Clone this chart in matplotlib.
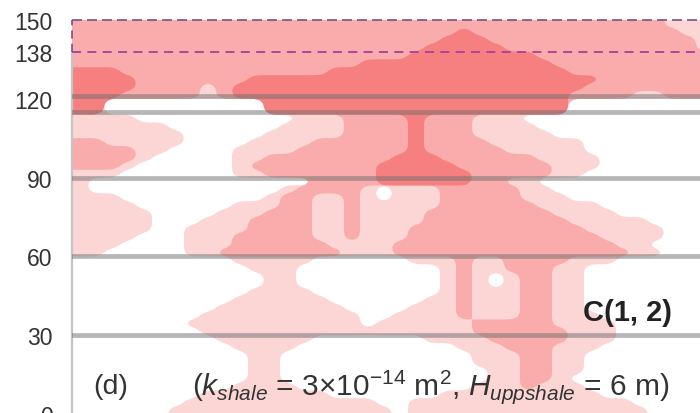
import numpy as np
import matplotlib
matplotlib.use("Agg")
import matplotlib.pyplot as plt

# CO2 saturation class per cell: rows from top (150 m) to bottom (0 m), 3 m per row,
# 40 columns across the section; run-length coded as "level*count"
plume_rows = [
    "2*37 1*3",
    "2*24 3*1 2*13 1*2",
    "2*23 3*3 2*13 1*1",
    "2*22 3*5 2*12 1*1",
    "2*21 3*8 2*11",
    "2*18 3*12 2*10",
    "3*3 2*13 3*15 2*9",
    "3*4 2*7 3*22 2*7",
    "3*4 2*4 1*1 2*1 3*22 2*8",
    "3*3 2*5 1*1 2*1 3*21 2*4 1*2 2*3",
    "3*2 0*10 3*19 0*9",
    "3*2 0*10 3*19 0*9",
    "1*4 0*10 1*3 2*4 3*1 2*3 1*3 0*12",
    "1*6 0*7 1*4 2*4 3*1 2*3 1*4 0*11",
    "1*7 0*5 1*5 2*4 3*1 2*3 1*5 0*10",
    "2*2 1*5 0*4 1*4 2*6 3*1 2*4 1*6 0*8",
    "2*4 1*2 0*4 1*4 2*7 3*1 2*5 1*5 0*8",
    "2*4 1*1 0*5 1*2 2*8 3*3 2*6 1*4 0*7",
    "2*3 1*1 0*6 1*1 2*8 3*5 2*6 1*3 0*7",
    "1*3 0*7 1*2 2*7 3*6 2*5 1*2 0*8",
    "1*1 0*14 2*4 3*6 2*2 1*2 0*11",
    "1*1 0*12 1*1 2*4 1*1 0*1 1*3 2*5 1*2 0*10",
    "1*3 0*9 1*1 2*2 1*2 2*1 1*1 0*1 1*3 2*5 1*3 0*9",
    "1*4 0*6 1*3 2*2 1*2 2*1 1*5 2*6 1*4 0*7",
    "1*5 0*4 1*3 2*3 1*2 2*1 1*4 2*8 1*4 0*6",
    "1*5 0*3 1*3 2*4 1*2 2*1 1*4 2*9 1*5 0*4",
    "1*5 0*2 1*4 2*4 1*2 2*1 1*3 2*11 1*5 0*3",
    "1*4 0*3 1*3 2*5 1*2 2*1 1*3 2*12 1*4 0*3",
    "1*3 0*4 1*3 2*6 1*4 2*14 1*2 0*4",
    "1*2 0*5 1*2 2*8 1*3 2*15 1*2 0*3",
    "0*10 1*5 0*6 1*3 2*1 1*2 2*4 1*3 0*6",
    "0*11 1*3 0*9 1*1 2*1 1*2 2*3 1*2 0*8",
    "0*12 1*2 0*9 1*1 2*1 1*1 0*1 1*1 2*2 1*2 0*8",
    "0*12 1*2 0*9 1*1 2*1 1*1 0*1 1*1 2*2 1*2 0*8",
    "0*11 1*4 0*8 1*1 2*1 1*3 2*2 1*2 0*8",
    "0*10 1*6 0*6 1*2 2*1 1*3 2*2 1*2 0*8",
    "0*9 1*8 0*4 1*3 2*1 1*3 2*2 1*2 0*8",
    "0*8 1*10 0*2 1*4 2*1 1*3 2*2 1*3 0*7",
    "0*7 1*11 0*1 1*6 2*5 1*4 0*6",
    "0*8 1*17 2*6 1*3 0*6",
    "0*9 1*6 0*7 1*4 2*5 1*3 0*6",
    "0*10 1*4 0*10 1*3 2*3 1*3 0*7",
    "0*11 1*2 0*12 1*3 2*2 1*2 0*8",
    "0*11 1*2 0*12 1*3 2*2 1*2 0*8",
    "0*11 1*2 0*13 1*2 2*2 1*2 0*8",
    "0*11 1*2 0*13 1*2 2*2 1*1 0*9",
    "0*10 1*4 0*11 1*3 2*1 1*3 0*8",
    "0*8 1*8 0*7 1*10 0*7",
    "0*7 1*12 0*2 1*14 0*5",
    "0*6 1*14 0*1 1*15 0*4",
]
level_colors = ["#fcd5d5", "#faabab", "#f67f7f"]
shale_lines = [121, 115, 90, 60, 30]
dashed_levels = [150, 138]
y_ticks = [0, 30, 60, 90, 120, 138, 150]
panel_label = "(d)"
case_label = "C(1, 2)"
param_label = r"($k_{shale}$ = 3×10$^{-14}$ m$^{2}$, $H_{uppshale}$ = 6 m)"

plt.rcParams['font.family'] = ['Liberation Sans', 'DejaVu Sans']
plt.rcParams['mathtext.fontset'] = 'custom'
plt.rcParams['mathtext.rm'] = 'Liberation Sans'
plt.rcParams['mathtext.it'] = 'Liberation Sans:italic'
plt.rcParams['mathtext.bf'] = 'Liberation Sans:bold'


def expand(row):
    out = []
    for tok in row.split():
        v, n = tok.split('*')
        out += [int(v)] * int(n)
    assert len(out) == 40, (row, len(out))
    return out


grid = np.array([expand(r) for r in plume_rows])
nrows, ncols = grid.shape
fy, fx = 4, 8
row_h = 3.0

sig = 1.6
kk = np.arange(-5, 6)
kern = np.exp(-0.5 * (kk / sig) ** 2)
kern /= kern.sum()


def smooth(a):
    p = np.pad(a, 5, mode='edge')
    p = np.apply_along_axis(lambda v: np.convolve(v, kern, mode='same'), 0, p)
    p = np.apply_along_axis(lambda v: np.convolve(v, kern, mode='same'), 1, p)
    return p[5:-5, 5:-5]


def bilinear(a):
    # sample cell-centred values at fine positions (cell-index units)
    xi = np.clip((np.arange(ncols * fx) + 0.5) / fx - 0.5, 0, ncols - 1)
    yi = np.clip((np.arange(nrows * fy) + 0.5) / fy - 0.5, 0, nrows - 1)
    cols = np.arange(ncols)
    rows = np.arange(nrows)
    tmp = np.array([np.interp(xi, cols, r) for r in a])
    out = np.array([np.interp(yi, rows, c) for c in tmp.T]).T
    return out


xs = (np.arange(ncols * fx) + 0.5) / fx
ys = 150 - (np.arange(nrows * fy) + 0.5) * row_h / fy
xs = np.concatenate([[0], xs, [ncols]])
ys = np.concatenate([[150], ys, [0]])
X, Y = np.meshgrid(xs, ys)

fig = plt.figure(figsize=(7.0, 4.14), dpi=100)
ax = fig.add_axes([72 / 700, -1 / 414, 628 / 700, 394 / 414])
ax.set_xlim(0, 628 / 16)
ax.set_ylim(0, 150)

for k, col in enumerate(level_colors, start=1):
    mask = (grid >= k).astype(float)
    f = smooth(bilinear(mask))
    f = np.pad(f, 1, mode='edge')
    ax.contourf(X, Y, f, levels=[0.5, 2.0], colors=[col], antialiased=True)

for d in shale_lines:
    ax.axhline(d, color='#6e6e6e', alpha=0.5, lw=3.4, zorder=3)

ax.axhline(dashed_levels[0], color='#7a4f8c', lw=1.2, dashes=(6, 3), clip_on=False, zorder=4)
ax.axhline(dashed_levels[1], color='#a3409c', lw=1.3, dashes=(5, 3.5), zorder=4)
ax.vlines(0, dashed_levels[1], dashed_levels[0], colors='#7a4f8c', lw=1.2,
          linestyles=(0, (5, 3)), clip_on=False, zorder=4)

for s in ['top', 'right', 'bottom']:
    ax.spines[s].set_visible(False)
ax.spines['left'].set_color('#c4c4c4')
ax.spines['left'].set_linewidth(1.6)
ax.spines['left'].set_bounds(0, dashed_levels[1])
ax.set_xticks([])
ax.set_yticks(y_ticks)
ax.set_yticklabels([str(t) for t in y_ticks])
ax.tick_params(axis='y', length=0, pad=14, labelsize=16.5, labelcolor='#333333')

ax.text((93 - 72) / 16, 10.6, panel_label, fontsize=20.5, color='#333333',
        ha='left', va='center', zorder=5)
ax.text((192 - 72) / 16, 10.6, param_label, fontsize=21.5, color='#333333',
        ha='left', va='center', zorder=5)
ax.text((583 - 72) / 16, 39, case_label, fontsize=21, fontweight='bold',
        color='#222222', ha='left', va='center', zorder=5)

fig.savefig("out.png", dpi=100)
